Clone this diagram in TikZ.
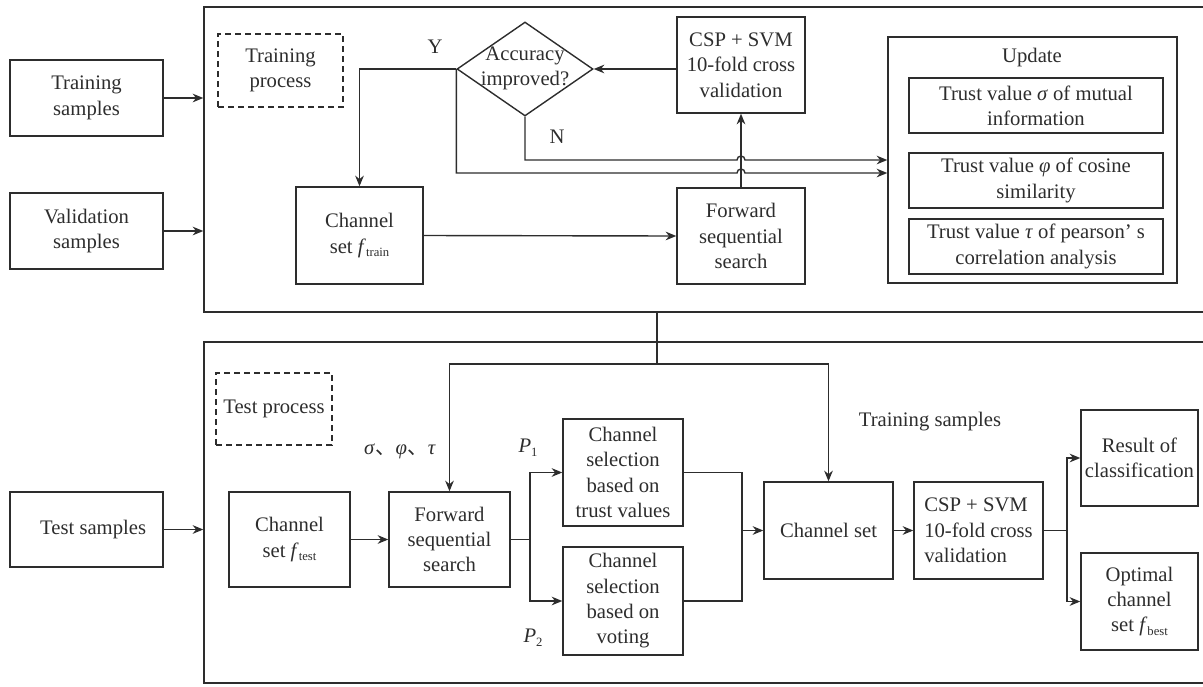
\documentclass[tikz,border=0pt]{standalone}
\usepackage{fontspec}
\setmainfont{Liberation Serif}
\newfontfamily\cjkfont{Noto Sans CJK SC}
\usetikzlibrary{arrows.meta,shapes.geometric}
\newcommand\subtxt[1]{\raisebox{-0.4ex}{\fontsize{9.5}{10}\selectfont #1}}
\definecolor{ln}{RGB}{45,45,45}
\begin{document}
\begin{tikzpicture}[x=0.75pt,y=-0.75pt,
  every node/.style={font=\fontsize{15.5}{19}\selectfont, text=ln},
  box/.style={draw=ln, line width=1.05pt, rectangle, inner sep=0pt, align=center},
  dbox/.style={box, dash pattern=on 4.5pt off 3pt},
  conn/.style={draw=ln, line width=1.05pt},
  arr/.style={conn, -{Stealth[length=8pt,width=6.5pt]}},
  lbl/.style={inner sep=0pt, align=center}]
\useasboundingbox (0,0) rectangle (1203,686);
\clip (0,0) rectangle (1203,686);

% outer frames
\node[box, minimum width=758.25pt, minimum height=228.75pt] (trainbox) at (709.5,159.5) {};
\node[box, minimum width=758.25pt, minimum height=255.75pt] (testbox) at (709.5,512.5) {};

% inputs
\node[box, minimum width=114.75pt, minimum height=57pt] (trs) at (86.5,98) {Training\\samples};
\node[box, minimum width=114.75pt, minimum height=57pt] (vas) at (86.5,231) {Validation\\samples};
\node[box, minimum width=114.75pt, minimum height=56.25pt] (tes) at (86.5,529.5) {\hspace*{10pt}Test samples};

% training part
\node[dbox, minimum width=93.75pt, minimum height=54.75pt] (dtrain) at (280.5,70.5) {Training\\process};
\node[draw=ln, line width=1.05pt, diamond, inner sep=0pt, minimum width=102pt, minimum height=70.5pt] (acc) at (525,69) {};
\node[lbl] (acctext) at (525,68.5) {Accuracy\\improved?};
\node[box, minimum width=96pt, minimum height=72pt] (csp1) at (741,65) {CSP + SVM\\10-fold cross\\validation};
\node[box, minimum width=96pt, minimum height=72pt] (fss1) at (741,236) {Forward\\sequential\\search};
\node[box, minimum width=95.25pt, minimum height=72.75pt] (cst) at (359.5,235.5) {Channel\\set \textit{f}\subtxt{train}};
\node[box, minimum width=216.75pt, minimum height=184.5pt] (upd) at (1032.5,160) {};
\node[lbl] (updl) at (1032,58) {Update};
\node[box, minimum width=190.5pt, minimum height=41.25pt] (t1) at (1036,105.5) {Trust value \textit{σ} of mutual\\information};
\node[box, minimum width=190.5pt, minimum height=41.25pt] (t2) at (1036,180.5) {Trust value \textit{φ} of cosine\\similarity};
\node[box, minimum width=190.5pt, minimum height=41.25pt] (t3) at (1036,246.5) {Trust value \textit{τ} of pearson’ s\\correlation analysis};
\node[lbl] (ylab) at (435,47) {Y};
\node[lbl] (nlab) at (557,137) {N};

% test part
\node[dbox, minimum width=87pt, minimum height=54pt] (dtest) at (274,409) {Test process};
\node[box, minimum width=90.75pt, minimum height=71.25pt] (cste) at (289.5,539.5) {Channel\\set \textit{f}\subtxt{test}};
\node[box, minimum width=90.75pt, minimum height=71.25pt] (fss2) at (449.5,539.5) {Forward\\sequential\\search};
\node[box, minimum width=90pt, minimum height=80.25pt] (cst1) at (623,472.5) {Channel\\selection\\based on\\trust values};
\node[box, minimum width=90pt, minimum height=81pt] (csv) at (623,601) {Channel\\selection\\based on\\voting};
\node[box, minimum width=96.75pt, minimum height=72.75pt] (chs) at (828.5,530.5) {Channel set};
\node[box, minimum width=96.75pt, minimum height=72.75pt, align=left] (csp2) at (978.5,530.5) {CSP + SVM\\10-fold cross\\validation};
\node[box, minimum width=87.75pt, minimum height=72pt] (res) at (1139.5,458) {Result of\\classification};
\node[box, minimum width=87.75pt, minimum height=72.75pt] (opt) at (1139.5,601.5) {Optimal\\channel\\set \textit{f}\subtxt{best}};
\node[lbl] (greek) at (400,451) {\textit{σ}{\cjkfont 、}\textit{φ}{\cjkfont 、}\textit{τ}};
\node[lbl] (p1) at (528,448) {\textit{P}\subtxt{1}};
\node[lbl] (p2) at (533,638) {\textit{P}\subtxt{2}};
\node[lbl] (trl) at (930,422) {Training samples};

% connectors: inputs
\draw[arr] (trs.east) -- (trs.east -| trainbox.west);
\draw[arr] (vas.east) -- (vas.east -| trainbox.west);
\draw[arr] (tes.east) -- (tes.east -| testbox.west);

% connectors: training
\draw[arr] (fss1.north) -- (csp1.south);
\draw[arr] (csp1.west |- acc.east) -- (acc.east);
\draw[arr] (acc.west) -| (cst.north);
\draw[arr] (cst.east) -- (fss1.west);
\coordinate (hN) at (741,160);
\coordinate (hY) at (741,173);
\draw[arr] (acc.south) |- ([xshift=-3pt]hN) arc (180:360:4) -- (upd.west |- hN);
\draw[arr] (acc.west) |- ([xshift=-3pt]hY) arc (180:360:4) -- (upd.west |- hY);

% link training -> test
\coordinate (j) at (657,364);
\draw[conn] (trainbox.south -| j) -- (j);
\draw[arr] (j) -| (fss2.north);
\draw[arr] (j) -| (chs.north);

% connectors: test
\draw[arr] (cste.east) -- (fss2.west);
\coordinate (b1) at (530,539.5);
\draw[conn] (fss2.east) -- (b1);
\draw[arr] (b1) |- (cst1.west);
\draw[arr] (b1) |- (csv.west);
\coordinate (b2) at (742,530.5);
\draw[conn] (cst1.east) -| (b2);
\draw[conn] (csv.east) -| (b2);
\draw[arr] (b2) -- (chs.west);
\draw[arr] (chs.east) -- (csp2.west);
\coordinate (b3) at (1067,530.5);
\draw[conn] (csp2.east) -- (b3);
\draw[arr] (b3) |- (res.west);
\draw[arr] (b3) |- (opt.west);
\end{tikzpicture}
\end{document}
